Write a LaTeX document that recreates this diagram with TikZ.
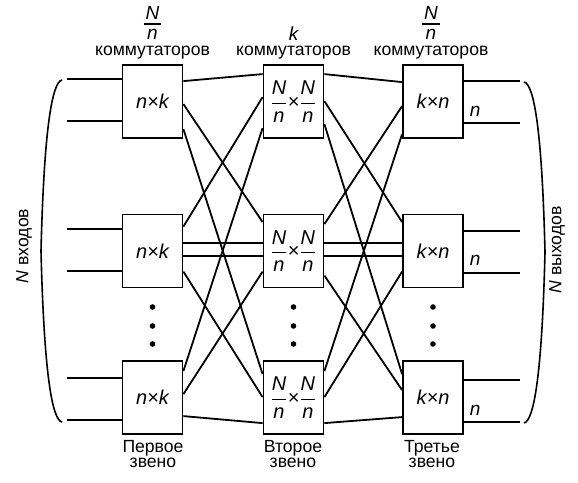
\documentclass[tikz,border=0pt]{standalone}
\usepackage{fontspec}
\setmainfont{Liberation Sans}
\usetikzlibrary{calc}
\newcommand\Nn{\(\displaystyle\frac{\hbox{\itshape N}}{\hbox{\itshape n}}\)}
\newcommand\Nt{\vbox{\halign{\hfil\kern1pt##\kern1pt\hfil\cr N\cr\noalign{\kern2pt\hrule height0.7pt\kern2.5pt}n\cr}}}

\begin{document}
\begin{tikzpicture}[x=0.5pt, y=-0.5pt, line width=0.9pt,
  sw/.style={draw, minimum width=30pt, minimum height=36.5pt, inner sep=0pt, font=\fontsize{10}{11}\selectfont\itshape},
  lbl/.style={font=\fontsize{8.8}{7.6}\selectfont, align=center, inner sep=0pt},
  var/.style={font=\fontsize{9.5}{10}\selectfont\itshape, inner sep=0pt}]
\useasboundingbox (0,0) rectangle (578,482);

\node[sw] (A1) at (152.5,101.5) {n×k};
\node[sw] (A2) at (152.5,251) {n×k};
\node[sw] (A3) at (152.5,397.5) {n×k};
\node[sw] (B1) at (293.5,101.5) {\Nn\kern-0.5pt×\kern-0.5pt\Nn};
\node[sw] (B2) at (293.5,251) {\Nn\kern-0.5pt×\kern-0.5pt\Nn};
\node[sw] (B3) at (293.5,397.5) {\Nn\kern-0.5pt×\kern-0.5pt\Nn};
\node[sw] (C1) at (433,101.5) {k×n};
\node[sw] (C2) at (433,251) {k×n};
\node[sw] (C3) at (433,397.5) {k×n};

\node[var] (fA) at (152.5,23) {\Nt};
\node[lbl] (kA) at (152.5,53) {коммутаторов};
\node[var] (fB) at (293.5,34) {k};
\node[lbl] (kB) at (293.5,53) {коммутаторов};
\node[var] (fC) at (431,23) {\Nt};
\node[lbl] (kC) at (431,53) {коммутаторов};

\node[lbl] (zA) at (153,454) {Первое\\звено};
\node[lbl] (zB) at (293,454) {Второе\\звено};
\node[lbl] (zC) at (432,454) {Третье\\звено};

\node[lbl, rotate=90] (inN) at (24,246) {\textit{N} входов};
\node[lbl, rotate=90] (outN) at (557,250) {\textit{N} выходов};

\draw ([yshift=-7.5pt]A1.north west) -- ++(-55,0);
\draw ([yshift=-28.5pt]A1.north west) -- ++(-55,0);
\draw ([yshift=-7.5pt]A2.north west) -- ++(-55,0);
\draw ([yshift=-28.5pt]A2.north west) -- ++(-55,0);
\draw ([yshift=-9pt]A3.north west) -- ++(-55,0);
\draw ([yshift=-30pt]A3.north west) -- ++(-55,0);

\draw ([yshift=-8.5pt]C1.north east) -- ++(56,0);
\draw ([yshift=-29.5pt]C1.north east) -- ++(56,0);
\draw ([yshift=-8.5pt]C2.north east) -- ++(56,0);
\draw ([yshift=-29.5pt]C2.north east) -- ++(56,0);
\draw ([yshift=-10pt]C3.north east) -- ++(56,0);
\draw ([yshift=-31pt]C3.north east) -- ++(56,0);

\node[var, anchor=base west] (n1) at ([xshift=2.5pt,yshift=-26pt]C1.north east) {n};
\node[var, anchor=base west] (n2) at ([xshift=2.5pt,yshift=-26pt]C2.north east) {n};
\node[var, anchor=base west] (n3) at ([xshift=2.5pt,yshift=-27.5pt]C3.north east) {n};

\draw ([yshift=-8.5pt]A1.north east) -- ([yshift=-5pt]B1.north west);
\draw ([yshift=-20pt]A1.north east) -- ([yshift=-4.25pt]B2.north west);
\draw ([yshift=-32.5pt]A1.north east) -- ([yshift=-7pt]B3.north west);
\draw ([yshift=-6.5pt]A2.north east) -- ([yshift=-16.5pt]B1.north west);
\draw ([yshift=-14.5pt]A2.north east) -- ([yshift=-14.5pt]B2.north west);
\draw ([yshift=-21pt]A2.north east) -- ([yshift=-21pt]B2.north west);
\draw ([yshift=-29pt]A2.north east) -- ([yshift=-18.5pt]B3.north west);
\draw ([yshift=-5.5pt]A3.north east) -- ([yshift=-32pt]B1.north west);
\draw ([yshift=-17pt]A3.north east) -- ([yshift=-29pt]B2.north west);
\draw ([yshift=-28pt]A3.north east) -- ([yshift=-31.5pt]B3.north west);

\draw ([yshift=-5pt]B1.north east) -- ([yshift=-9pt]C1.north west);
\draw ([yshift=-18.5pt]B1.north east) -- ([yshift=-4.25pt]C2.north west);
\draw ([yshift=-30pt]B1.north east) -- ([yshift=-7pt]C3.north west);
\draw ([yshift=-5.25pt]B2.north east) -- ([yshift=-21pt]C1.north west);
\draw ([yshift=-14.5pt]B2.north east) -- ([yshift=-14.5pt]C2.north west);
\draw ([yshift=-21pt]B2.north east) -- ([yshift=-21pt]C2.north west);
\draw ([yshift=-31pt]B2.north east) -- ([yshift=-15pt]C3.north west);
\draw ([yshift=-18.5pt]B3.north east) -- ([yshift=-29pt]C2.north west);
\draw ([yshift=-5.5pt]B3.north east) -- ([yshift=-35pt]C1.north west);
\draw ([yshift=-31.5pt]B3.north east) -- ([yshift=-28.5pt]C3.north west);

\fill (152.5,307) circle[radius=1.4pt] (152.5,326) circle[radius=1.4pt] (152.5,344) circle[radius=1.4pt];
\fill (293.5,307) circle[radius=1.4pt] (293.5,326) circle[radius=1.4pt] (293.5,344) circle[radius=1.4pt];
\fill (433,307) circle[radius=1.4pt] (433,326) circle[radius=1.4pt] (433,344) circle[radius=1.4pt];

\draw[line width=0.8pt] (62,80) .. controls (52,82) and (44,130) .. (41,251) .. controls (44,372) and (52,420) .. (62,422);
\draw[line width=0.8pt] (524,82) .. controls (534,84) and (542,130) .. (545,252) .. controls (542,374) and (534,421) .. (524,423);
\end{tikzpicture}
\end{document}
